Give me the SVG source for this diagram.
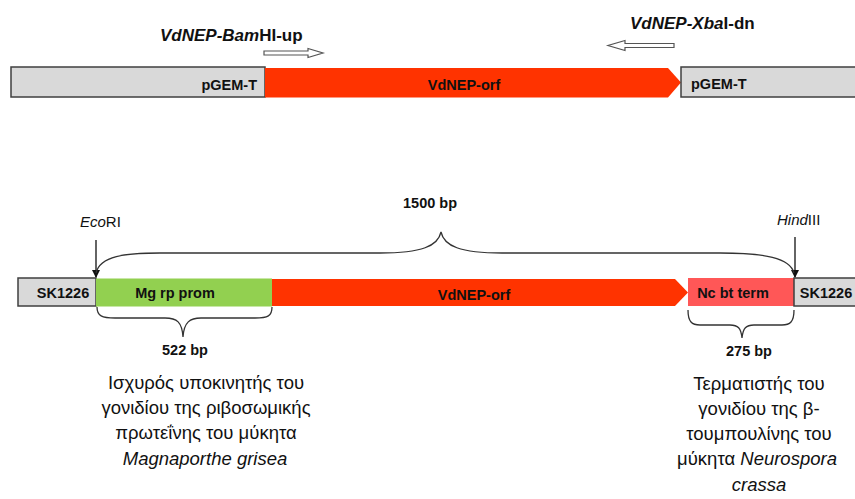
<svg xmlns="http://www.w3.org/2000/svg" width="855" height="499" viewBox="0 0 855 499">
<style>
.gray{fill:#d9d9d9;stroke:#3f3f3f;stroke-width:1.5}
.orf{fill:#ff3300}
.prom{fill:#92d050}
.term{fill:#ff5757}
.lbl{font-family:"Liberation Sans",Arial,sans-serif;font-weight:bold;font-size:14.5px;fill:#111}
.primer{font-family:"Liberation Sans",Arial,sans-serif;font-weight:bold;font-size:17px;fill:#111}
.site{font-family:"Liberation Sans",Arial,sans-serif;font-size:15px;fill:#111}
.bp{font-family:"Liberation Sans",Arial,sans-serif;font-weight:bold;font-size:14.5px;fill:#111}
.desc{font-family:"Liberation Sans",Arial,sans-serif;font-size:18.5px;fill:#111}
.brace{fill:none;stroke:#333;stroke-width:1.3}
.parrow{fill:#fff;stroke:#555;stroke-width:1.2}
.cut{stroke:#111;stroke-width:1.3}
</style>
<defs>
<marker id="ah" markerWidth="8" markerHeight="8" refX="7" refY="4" orient="auto" markerUnits="userSpaceOnUse">
<path d="M0,0 L8,4 L0,8 z" fill="#111"/>
</marker>
</defs>

<g id="top-construct">
<g id="pgemt-left"><rect class="gray" x="11" y="67" width="254" height="30"/><text class="lbl" x="257" y="90" text-anchor="end">pGEM-T</text></g>
<g id="vdnep-orf-top"><polygon class="orf" points="265,68 668,68 681,82.5 668,97.5 265,97.5"/><text class="lbl" x="464" y="90" text-anchor="middle">VdNEP-orf</text></g>
<g id="pgemt-right"><rect class="gray" x="681" y="67" width="180" height="30"/><text class="lbl" x="691" y="89">pGEM-T</text></g>
<g id="primer-up"><text class="primer" x="160" y="41"><tspan font-style="italic">VdNEP-Bam</tspan>HI-up</text>
<polygon class="parrow" points="264,51 308,51 308,48.5 323,53 308,57.5 308,55 264,55"/></g>
<g id="primer-dn"><text class="primer" x="630" y="29"><tspan font-style="italic">VdNEP-Xba</tspan>I-dn</text>
<polygon class="parrow" points="674,43.5 625,43.5 625,40.5 608,45.5 625,50.5 625,47.5 674,47.5"/></g>
</g>

<g id="bottom-construct">
<g id="sk1226-left"><rect class="gray" x="18" y="278" width="78" height="28"/><text class="lbl" x="63" y="298" text-anchor="middle">SK1226</text></g>
<g id="mg-rp-prom"><rect class="prom" x="96" y="278.5" width="176" height="28"/><text class="lbl" x="175" y="298" text-anchor="middle">Mg rp prom</text></g>
<g id="vdnep-orf-bottom"><polygon class="orf" points="272,279 675,279 688,292.5 675,306 272,306"/><text class="lbl" x="474" y="300" text-anchor="middle">VdNEP-orf</text></g>
<g id="nc-bt-term"><rect class="term" x="688" y="278" width="106" height="28"/><text class="lbl" x="733" y="298" text-anchor="middle">Nc bt term</text></g>
<g id="sk1226-right"><rect class="gray" x="794" y="278" width="70" height="28"/><text class="lbl" x="826" y="298" text-anchor="middle">SK1226</text></g>
</g>

<g id="sites">
<text class="site" x="80" y="227"><tspan font-style="italic">Eco</tspan>RI</text>
<text class="site" x="777" y="225"><tspan font-style="italic">Hind</tspan>III</text>
<text class="bp" x="430" y="208" text-anchor="middle">1500 bp</text>
<text class="bp" x="185" y="355" text-anchor="middle">522 bp</text>
<text class="bp" x="749" y="356" text-anchor="middle">275 bp</text>
</g>

<g id="connectors">
<line class="cut" x1="96" y1="240" x2="96" y2="277" marker-end="url(#ah)"/>
<line class="cut" x1="795" y1="237" x2="795" y2="277" marker-end="url(#ah)"/>
<path class="brace" d="M96,273 C100,256 125,253 160,253 L380,253 C422,253 438,246 441,232 C444,246 460,253 502,253 L720,253 C765,253 790,258 794,273"/>
<path class="brace" d="M97,307 C97,316 102,318 115,318 L165,318 C177,318 182,322 183,337 C184,322 190,318 201,318 L255,318 C268,318 272,316 272,307"/>
<path class="brace" d="M688,310 C688,322 692,325 700,325 L730,325 C738,325 741,328 742,338 C743,328 746,325 754,325 L782,325 C790,325 794,322 794,310"/>
</g>

<g id="desc-left">
<text class="desc" text-anchor="middle" x="206" y="389">Ισχυρός υποκινητής του</text>
<text class="desc" text-anchor="middle" x="206" y="414">γονιδίου της ριβοσωμικής</text>
<text class="desc" text-anchor="middle" x="206" y="439">πρωτεΐνης του μύκητα</text>
<text class="desc" text-anchor="middle" x="205" y="465" font-style="italic">Magnaporthe grisea</text>
</g>
<g id="desc-right">
<text class="desc" text-anchor="middle" x="759" y="390">Τερματιστής του</text>
<text class="desc" text-anchor="middle" x="759" y="415">γονιδίου της β-</text>
<text class="desc" text-anchor="middle" x="759" y="440">τουμπουλίνης του</text>
<text class="desc" text-anchor="middle" x="757" y="465">μύκητα <tspan font-style="italic">Neurospora</tspan></text>
<text class="desc" text-anchor="middle" x="759" y="491" font-style="italic">crassa</text>
</g>
</svg>
